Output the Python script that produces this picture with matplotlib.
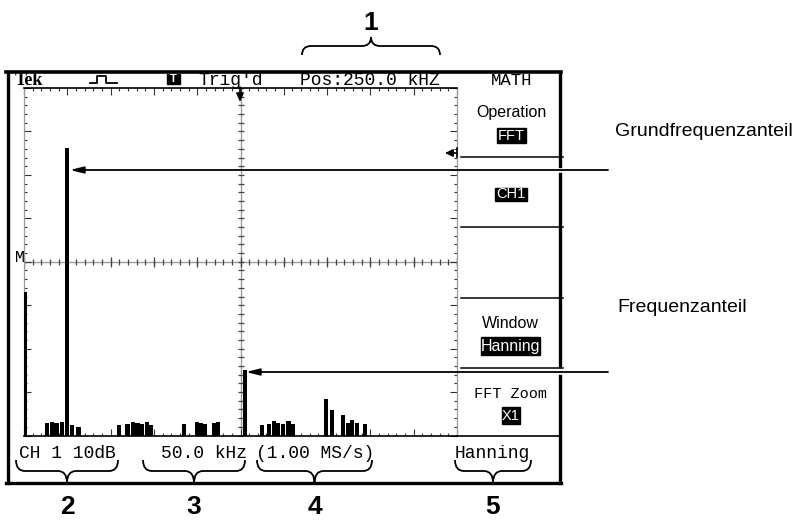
import numpy as np
import matplotlib
matplotlib.use("Agg")
import matplotlib.pyplot as plt
from matplotlib.path import Path
from matplotlib.patches import PathPatch, Rectangle
from matplotlib import font_manager

# FFT spectrum: frequency in kHz, level in dB (10 dB/div, M = 0 dB)
peak_freqs = [2, 50, 255]
peak_levels = [-7.0, 26.2, -24.9]
peak_widths = [3.5, 5.0, 5.0]

noise_freqs = [27, 32, 37.5, 43.5, 55, 63,
               110, 119.5, 126, 131, 136.5, 142.5, 146.5,
               185, 200, 204.5, 209, 219, 224,
               275, 283, 288.5, 293.5, 299.5, 305.5, 310.5,
               349, 355.5, 368.5, 374.5, 379, 385, 394]
noise_levels = [-37.1, -36.9, -37.1, -36.9, -37.6, -38.0,
                -37.6, -37.3, -36.9, -37.1, -37.3, -36.9, -37.6,
                -37.3, -36.9, -37.1, -37.3, -37.1, -36.9,
                -37.6, -37.3, -36.7, -37.1, -37.3, -36.7, -37.3,
                -31.6, -34.1, -35.3, -37.1, -36.4, -37.1, -37.3]
noise_width = 4.8

floor_db = -40
top_db = 40
span_khz = 500

status_top = ["Trig'd", "Pos:250.0 kHZ"]
status_bottom = ["CH 1 10dB", "50.0 kHz", "(1.00 MS/s)", "Hanning"]
callouts = ["1", "2", "3", "4", "5"]
notes = ["Grundfrequenzanteil", "Frequenzanteil"]

names = {f.name for f in font_manager.fontManager.ttflist}
narrow = "Liberation Sans Narrow" if "Liberation Sans Narrow" in names else "Liberation Sans"
MONO = "Liberation Mono"
SANS = "Liberation Sans"

W, H = 802, 522
fig = plt.figure(figsize=(W / 100, H / 100), dpi=100)

# graticule area in pixels
gx0, gx1, gy0, gy1 = 24, 457, 88, 435.5
ax_spec = fig.add_axes([gx0 / W, 1 - gy1 / H, (gx1 - gx0) / W, (gy1 - gy0) / H])
ax_spec.set_xlim(0, span_khz)
ax_spec.set_ylim(floor_db, top_db)

ax_spec.bar(peak_freqs, np.array(peak_levels) - floor_db, bottom=floor_db,
            width=peak_widths, color="black", linewidth=0, zorder=3)
ax_spec.bar(noise_freqs, np.array(noise_levels) - floor_db, bottom=floor_db,
            width=noise_width, color="black", linewidth=0, zorder=3)

ax_spec.set_xticks(np.arange(0, span_khz + 1, 50))
ax_spec.set_xticks(np.arange(0, span_khz + 1, 10), minor=True)
ax_spec.set_yticks(np.arange(floor_db, top_db + 1, 10))
ax_spec.set_yticks(np.arange(floor_db, top_db + 1, 2), minor=True)
ax_spec.tick_params(which="both", direction="in", top=True, right=True,
                    labelbottom=False, labelleft=False, color="#333333", width=0.8)
ax_spec.tick_params(which="major", length=5)
ax_spec.tick_params(which="minor", length=2.5)
for s in ["top", "bottom"]:
    ax_spec.spines[s].set_linewidth(1.2)
for s in ["left", "right"]:
    ax_spec.spines[s].set_color("#999999")
    ax_spec.spines[s].set_linewidth(0.9)

# centre cross with its own tick marks
ax_spec.axhline(0, color="#9a9a9a", lw=1, zorder=1)
ax_spec.axvline(span_khz / 2, color="#9a9a9a", lw=1, zorder=1)
mx = np.arange(0, span_khz + 1, 10)
my = np.arange(floor_db, top_db + 1, 2)
ax_spec.plot(mx, np.zeros_like(mx), ls="none", marker="|", ms=4.5, mew=0.9, color="#444444", zorder=2)
ax_spec.plot(np.full_like(my, span_khz / 2, dtype=float), my, ls="none", marker="_", ms=4.5, mew=0.9,
             color="#444444", zorder=2)
ax_spec.plot(mx[::5], np.zeros_like(mx[::5]), ls="none", marker="|", ms=7, mew=0.9, color="#444444", zorder=2)

# overlay in pixel coordinates
ax = fig.add_axes([0, 0, 1, 1])
ax.set_xlim(0, W)
ax.set_ylim(H, 0)
ax.axis("off")

k = "black"
# outer frame (right edge broken where the callout lines pass)
ax.plot([7.5, 7.5], [72, 483], color=k, lw=2.4)
ax.plot([6, 561], [72, 72], color=k, lw=2.6)
ax.plot([6, 561], [483, 483], color=k, lw=2.4)
for a, b in [(72, 166), (174, 366), (376, 483)]:
    ax.plot([559.5, 559.5], [a, b], color=k, lw=2.4)

# menu column separators and bottom line
for y in [157, 227, 298, 368]:
    ax.plot([461, 563], [y, y], color=k, lw=1.1)
ax.plot([gx1, 559], [gy1, gy1], color=k, lw=1.2)

# status line
ax.text(15, 85, "Tek", fontsize=13, fontweight="bold", family="Liberation Serif", va="baseline")
ax.plot([90, 97, 97, 106, 106, 117], [83, 83, 76, 76, 83, 83], color=k, lw=1.3)
ax.add_patch(Rectangle((167, 74), 13, 10, color=k))
ax.text(173.5, 79.5, "T", color="white", fontsize=8, fontweight="bold", family=SANS, ha="center", va="center")
ax.text(231, 85, status_top[0], fontsize=13, family=MONO, ha="center", va="baseline")
ax.text(370, 85, status_top[1], fontsize=13, family=MONO, ha="center", va="baseline")
ax.text(511.5, 85, "MATH", fontsize=12.5, family=MONO, ha="center", va="baseline")

# trigger position marker and reference marker
ax.annotate("", xy=(240, 102), xytext=(240, 87),
            arrowprops=dict(arrowstyle="-|>,head_length=0.5,head_width=0.22", lw=1.2, color=k,
                            shrinkA=0, shrinkB=0))
ax.annotate("", xy=(445, 153), xytext=(456, 153),
            arrowprops=dict(arrowstyle="-|>,head_length=0.45,head_width=0.22", lw=1.2, color=k,
                            shrinkA=0, shrinkB=0))
ax.plot([456.5, 456.5], [148, 157], color=k, lw=1.2)
ax.text(20, 258, "M", fontsize=12, family=MONO, ha="center", va="center")

# menu entries
ax.text(511, 117, "Operation", fontsize=11.5, family=SANS, ha="center", va="baseline")
ax.add_patch(Rectangle((497, 128), 29, 15, color=k))
ax.text(511.5, 135.5, "FFT", fontsize=10.5, family=SANS, color="white", ha="center", va="center")
ax.add_patch(Rectangle((495, 188), 32, 13, color=k))
ax.text(511, 194.5, "CH1", fontsize=10.5, family=SANS, color="white", ha="center", va="center")
ax.text(510, 328, "Window", fontsize=11.5, family=SANS, ha="center", va="baseline")
ax.add_patch(Rectangle((481, 337), 59, 18, color=k))
ax.text(510.5, 346, "Hanning", fontsize=11.5, family=SANS, color="white", ha="center", va="center")
ax.text(510.5, 398, "FFT Zoom", fontsize=11, family=MONO, ha="center", va="baseline")
ax.add_patch(Rectangle((502, 407), 18, 17, color=k))
ax.text(511, 415.5, "X1", fontsize=10.5, family=SANS, color="white", ha="center", va="center")

# bottom readouts
for txt, xc in zip(status_bottom, [67.5, 204, 315, 492.5]):
    ax.text(xc, 458, txt, fontsize=13, family=MONO, ha="center", va="baseline")


def brace(x0, x1, yb, ym, yt, r=9):
    xc = (x0 + x1) / 2
    verts = [(x0, yb), (x0, ym), (x0 + r, ym), (xc - r, ym), (xc, ym), (xc, yt),
             (xc, ym), (xc + r, ym), (x1 - r, ym), (x1, ym), (x1, yb)]
    codes = [Path.MOVETO, Path.CURVE3, Path.CURVE3, Path.LINETO, Path.CURVE3, Path.CURVE3,
             Path.CURVE3, Path.CURVE3, Path.LINETO, Path.CURVE3, Path.CURVE3]
    ax.add_patch(PathPatch(Path(verts, codes), fill=False, lw=1.3, edgecolor=k))
    return xc


cx = [brace(302, 440, 55, 46, 37)]
for x0, x1 in [(16, 118), (143, 245), (257, 372), (455, 531)]:
    cx.append(brace(x0, x1, 460, 471, 483))

ax.text(cx[0], 30, callouts[0], fontsize=19, fontweight="bold", family=narrow, ha="center", va="baseline")
for lab, xc in zip(callouts[1:], cx[1:]):
    ax.text(xc, 514, lab, fontsize=19, fontweight="bold", family=narrow, ha="center", va="baseline")

# callout arrows
for y, tip in [(170, 70), (372, 246)]:
    ax.annotate("", xy=(tip, y), xytext=(608, y),
                arrowprops=dict(arrowstyle="-|>,head_length=0.8,head_width=0.2", lw=1.3, color=k,
                                shrinkA=0, shrinkB=0))
ax.text(615, 136, notes[0], fontsize=14, family=SANS, va="baseline")
ax.text(617, 312, notes[1], fontsize=14, family=SANS, va="baseline")

fig.savefig("out.png", dpi=100)
